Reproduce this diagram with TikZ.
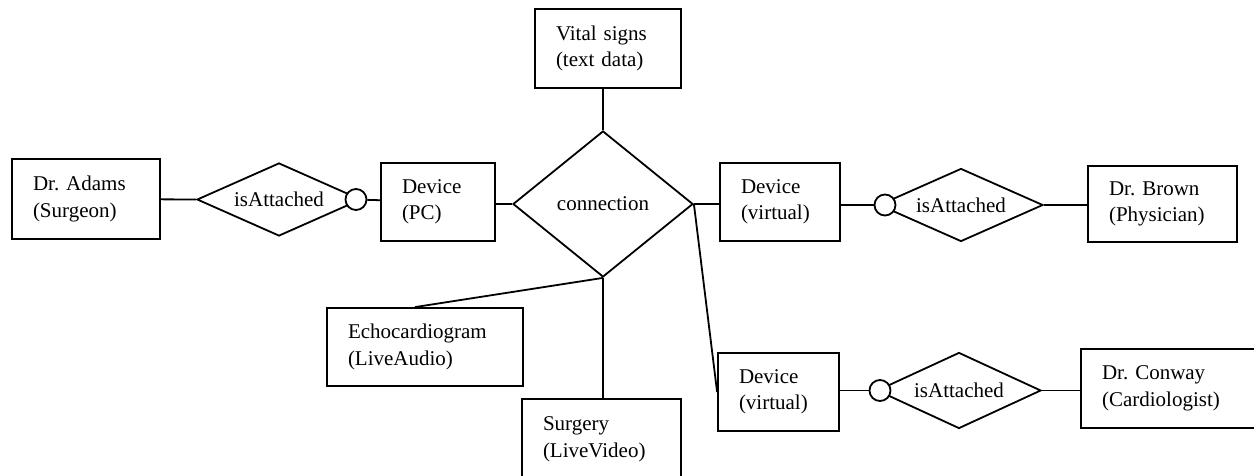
\documentclass[tikz,border=0pt]{standalone}
\usepackage{fontspec}
\setmainfont{Liberation Serif}
\frenchspacing
\usetikzlibrary{shapes.geometric, calc}
\tikzset{
  entity/.style={rectangle, draw=black, line width=1.8pt, fill=white,
                 inner xsep=21pt, inner ysep=0pt, align=left,
                 font=\fontsize{21}{26.5}\selectfont},
  relation/.style={diamond, draw=black, line width=1.8pt, fill=white,
                   inner sep=0pt, font=\fontsize{21}{26.5}\selectfont},
  ring/.style={circle, draw=black, line width=1.8pt, fill=white,
               minimum size=21pt, inner sep=0pt},
  link/.style={draw=black, line width=1.8pt},
}
\begin{document}
\begin{tikzpicture}[x=1pt, y=-1pt,
  box/.style 2 args={entity, minimum width=#1pt, text width=#1pt-42pt,
                     minimum height=#2pt},
  rel/.style n args={3}{relation, minimum width=#1pt, minimum height=#2pt,
                        aspect=#3},
]
  \useasboundingbox (0,0) rectangle (1254,476);
  \clip (0,0) rectangle (1254,476);

  \node[box={148}{80}] (adams) at (86,199) {Dr. Adams\\(Surgeon)};
  \node[rel={164}{73}{2.25}] (att1) at (279,199.5) {isAttached};
  \node[ring] (ring1) at (356,199.5) {};
  \node[box={114}{78}] (devpc) at (438,202) {Device\\(PC)};

  \node[rel={180}{146}{1.23}] (conn) at (603,204) {connection};
  \node[box={146}{79}] (vital) at (608,48.5) {Vital signs\\(text data)};
  \node[box={196}{78}] (echo) at (425,347) {Echocardiogram\\(LiveAudio)};
  \node[box={159}{81}] (surg) at (601.5,439.5) {Surgery\\(LiveVideo)};

  \node[box={120}{78}] (dev2) at (780,202) {Device\\(virtual)};
  \node[rel={164}{73}{2.25}] (att2) at (961,205) {isAttached};
  \node[ring] (ring2) at (885,205) {};
  \node[box={149}{76}] (brown) at (1162.5,204) {Dr. Brown\\(Physician)};

  \node[box={121}{78}] (dev3) at (778.5,392) {Device\\(virtual)};
  \node[rel={164}{76}{2.16}] (att3) at (959,390.5) {isAttached};
  \node[ring] (ring3) at (880,390.5) {};
  \node[box={182}{79}] (conway) at (1172,388.5) {Dr. Conway\\(Cardiologist)};

  \draw[link] (adams) -- (att1.west);
  \draw[link] (ring1) -- (devpc);
  \draw[link] (devpc.east |- conn.west) -- (conn.west);
  \draw[link] (conn.north) -- (conn.north |- vital.south);
  \draw[link] (conn.south) -- ([xshift=-10pt]echo.north);
  \draw[link] (conn.south) -- (conn.south |- surg.north);
  \draw[link] (conn.east) -- (dev2.west |- conn.east);
  \draw[link] (conn.east) -- (dev3.west);
  \draw[link] (dev2.east |- ring2) -- (ring2);
  \draw[link] (att2.east) -- (brown.west |- att2.east);
  \draw[link] (dev3.east |- ring3) -- (ring3);
  \draw[link] (att3.east) -- (conway.west |- att3.east);
\end{tikzpicture}
\end{document}
